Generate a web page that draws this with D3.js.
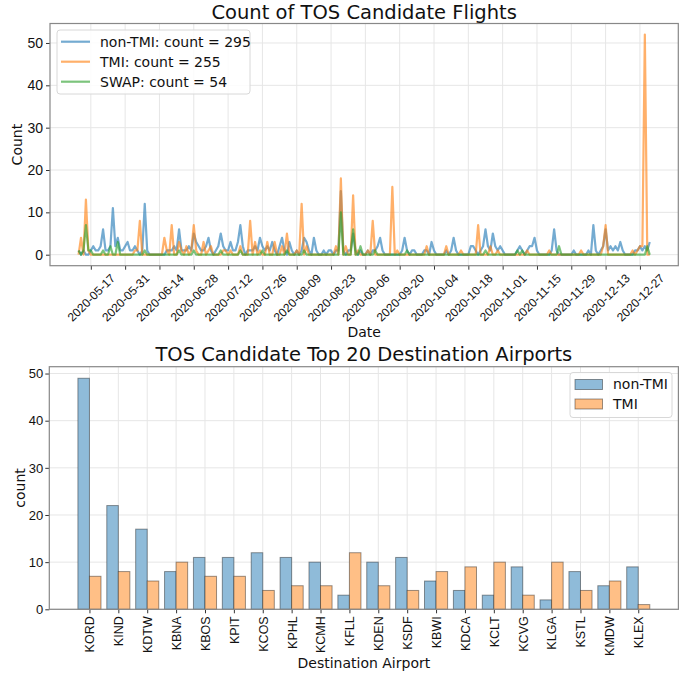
<!DOCTYPE html>
<html>
<head>
<meta charset="utf-8">
<script src="https://cdn.jsdelivr.net/npm/d3@7"></script>
<style>
  html, body { margin: 0; padding: 0; background: #fff; }
  svg { display: block; font-family: "DejaVu Sans", sans-serif; }
</style>
</head>
<body>
<svg id="chart" width="683" height="675"></svg>
<script>
// ---------------- DATA ----------------
const startDate = "2020-05-12";
const dateTicks = ["2020-05-17","2020-05-31","2020-06-14","2020-06-28","2020-07-12","2020-07-26",
  "2020-08-09","2020-08-23","2020-09-06","2020-09-20","2020-10-04","2020-10-18","2020-11-01",
  "2020-11-15","2020-11-29","2020-12-13","2020-12-27"];

const nonTMI = [
  1,0,1,0,0,1,2,1,1,2, 6,1,1,2,11,2,4,1,1,2, 3,1,1,2,1,0,1,12,1,0, 0,0,0,0,0,0,1,1,1,2,
  1,6,1,1,1,2,1,5,3,2, 1,1,2,4,1,0,1,2,5,2, 1,1,3,1,1,3,7,2,0,1, 1,1,2,1,4,2,1,2,1,3,
  1,0,2,4,1,0,3,1,0,1, 0,1,4,3,1,0,4,1,0,0, 1,0,1,1,0,1,1,15,1,0, 1,1,5,1,0,1,0,0,1,0,
  1,1,2,4,1,0,0,0,0,0, 0,0,1,4,1,0,1,1,0,0, 0,1,1,0,3,1,0,0,0,0, 1,0,1,4,1,0,0,0,0,0,
  2,2,1,0,1,2,6,2,1,5, 2,1,2,1,0,0,0,0,0,1, 2,1,0,1,2,2,4,1,0,0, 0,0,0,1,6,1,0,0,0,0,
  0,0,1,0,0,0,0,0,1,0, 7,1,0,1,2,6,1,2,1,2, 1,3,1,0,0,0,0,1,1,2, 1,2,1,3];
const tmi = [
  0,4,0,13,1,0,0,0,0,0, 0,0,0,0,0,0,0,0,0,0, 0,0,0,1,1,8,0,0,0,0, 0,0,0,0,0,4,1,0,7,0,
  0,3,1,0,2,0,1,7,1,0, 0,3,0,1,2,0,0,0,0,1, 1,0,1,0,0,0,2,0,0,0, 8,0,3,0,1,0,0,3,0,0,
  3,0,0,2,0,5,0,0,0,1, 0,12,0,2,0,0,0,0,0,0, 0,0,0,0,0,2,0,18,0,2, 0,0,14,0,1,0,0,0,1,0,
  8,0,0,0,0,0,0,0,16,0, 1,0,0,0,0,0,0,0,0,0, 0,0,2,0,0,0,0,0,0,0, 2,0,0,0,0,0,1,0,0,0,
  0,0,0,7,0,0,0,0,2,0, 0,1,0,0,0,0,0,0,0,0, 0,0,0,1,0,0,0,0,0,0, 0,0,1,0,0,0,0,0,0,0,
  0,0,0,0,0,1,0,0,0,0, 0,0,0,0,2,7,0,0,0,0, 0,0,0,0,0,0,1,0,1,2, 2,52,0,0];
const swap = [
  1,0,1,7,1,1,0,0,0,0, 1,0,0,2,0,0,3,0,0,0, 0,0,0,0,0,0,0,1,0,0, 0,0,0,0,0,0,0,0,0,0,
  0,1,0,0,0,0,0,1,0,0, 0,0,0,0,0,0,0,0,1,0, 0,0,0,0,0,0,1,0,0,0, 0,0,0,0,0,1,0,0,0,0,
  0,0,0,0,0,1,0,0,0,0, 0,0,1,0,0,0,0,0,0,0, 0,0,0,0,0,0,0,10,0,0, 0,0,6,0,0,2,0,0,0,0,
  0,1,0,0,0,0,0,0,0,0, 0,0,0,0,1,0,0,0,0,0, 0,0,0,0,0,0,0,0,0,0, 0,0,0,0,0,0,0,0,0,0,
  0,0,0,0,0,0,1,0,0,0, 0,0,0,0,0,0,0,0,0,1, 0,1,0,0,0,0,0,0,0,0, 0,0,0,0,0,0,2,0,0,0,
  0,0,0,0,0,0,0,0,0,0, 0,0,0,0,0,0,0,0,0,0, 0,0,0,0,0,0,0,0,0,0, 0,0,2,0];
const seriesNames = ["non-TMI: count = 295", "TMI: count = 255", "SWAP: count = 54"];

const airports = ["KORD","KIND","KDTW","KBNA","KBOS","KPIT","KCOS","KPHL","KCMH","KFLL",
  "KDEN","KSDF","KBWI","KDCA","KCLT","KCVG","KLGA","KSTL","KMDW","KLEX"];
const airNonTMI = [49,22,17,8,11,11,12,11,10,3,10,11,6,4,3,9,2,8,5,9];
const airTMI    = [7,8,6,10,7,7,4,5,5,12,5,4,8,9,10,3,10,4,6,1];
const countTicks = [0,10,20,30,40,50];
const lineTicks = [0,10,20,30,40,50];

// ---------------- STYLE ----------------
const colors = ["#1f77b4", "#ff7f0e", "#2ca02c"];
const gridColor = "#e6e6e6";
const svg = d3.select("#chart");

// ================= TOP CHART =================
const T = {left: 50, right: 678.3, top: 23.5, bottom: 265.7};
const parse = d3.utcParse("%Y-%m-%d");
const d0 = parse(startDate);
const dates = nonTMI.map((_, i) => d3.utcDay.offset(d0, i));
const dEnd = dates[dates.length - 1];
const spanMs = dEnd - d0;
const xT = d3.scaleUtc()
  .domain([new Date(+d0 - spanMs * 0.05), new Date(+dEnd + spanMs * 0.05)])
  .range([T.left, T.right]);
const yT = d3.scaleLinear().domain([-2.6, 54.6]).range([T.bottom, T.top]);
const tickDates = dateTicks.map(parse);

const gT = svg.append("g");
// grid
gT.append("g").selectAll("line").data(tickDates).join("line")
  .attr("x1", d => xT(d)).attr("x2", d => xT(d))
  .attr("y1", T.top).attr("y2", T.bottom)
  .attr("stroke", gridColor).attr("stroke-width", 1);
gT.append("g").selectAll("line").data(lineTicks).join("line")
  .attr("x1", T.left).attr("x2", T.right)
  .attr("y1", d => yT(d)).attr("y2", d => yT(d))
  .attr("stroke", gridColor).attr("stroke-width", 1);

// lines
const lineGen = d3.line().x((d, i) => xT(dates[i])).y(d => yT(d));
[nonTMI, tmi, swap].forEach((s, k) => {
  gT.append("path").datum(s)
    .attr("d", lineGen)
    .attr("fill", "none")
    .attr("stroke", colors[k])
    .attr("stroke-width", 2.2)
    .attr("stroke-opacity", 0.62)
    .attr("stroke-linejoin", "round");
});

// axes
const xAxisT = gT.append("g").attr("transform", `translate(0,${T.bottom})`)
  .call(d3.axisBottom(xT).tickValues(tickDates).tickFormat(d3.utcFormat("%Y-%m-%d")).tickSize(4).tickSizeOuter(0));
xAxisT.select(".domain").remove();
xAxisT.selectAll("line").attr("stroke", "#333");
xAxisT.selectAll("text")
  .attr("font-size", 12).attr("fill", "#111")
  .attr("text-anchor", "middle")
  .attr("x", 0).attr("y", 0).attr("dy", "0.35em")
  .attr("transform", "translate(0,32) rotate(-45)");

const yAxisT = gT.append("g").attr("transform", `translate(${T.left},0)`)
  .call(d3.axisLeft(yT).tickValues(lineTicks).tickSize(4));
yAxisT.select(".domain").remove();
yAxisT.selectAll("line").attr("stroke", "#333");
yAxisT.selectAll("text").attr("font-size", 14).attr("fill", "#111").attr("x", -7);

gT.append("rect").attr("x", T.left).attr("y", T.top)
  .attr("width", T.right - T.left).attr("height", T.bottom - T.top)
  .attr("fill", "none").attr("stroke", "#888").attr("stroke-width", 1.2);

gT.append("text").attr("x", (T.left + T.right) / 2).attr("y", 19)
  .attr("text-anchor", "middle").attr("font-size", 19.5).attr("fill", "#111")
  .text("Count of TOS Candidate Flights");
gT.append("text").attr("x", (T.left + T.right) / 2).attr("y", 337)
  .attr("text-anchor", "middle").attr("font-size", 14).attr("fill", "#111").text("Date");
gT.append("text").attr("transform", `translate(22,${(T.top + T.bottom) / 2}) rotate(-90)`)
  .attr("text-anchor", "middle").attr("font-size", 14).attr("fill", "#111").text("Count");

// legend
const legT = gT.append("g");
legT.append("rect").attr("x", 57).attr("y", 30).attr("width", 193).attr("height", 64)
  .attr("rx", 3).attr("fill", "#fff").attr("fill-opacity", 0.85)
  .attr("stroke", "#d8d8d8");
seriesNames.forEach((name, k) => {
  const yy = 41.7 + k * 20;
  legT.append("line").attr("x1", 61).attr("x2", 90).attr("y1", yy).attr("y2", yy)
    .attr("stroke", colors[k]).attr("stroke-width", 2.2).attr("stroke-opacity", 0.62);
  legT.append("text").attr("x", 100).attr("y", yy).attr("dy", "0.35em")
    .attr("font-size", 14).attr("fill", "#111").text(name);
});

// ================= BOTTOM CHART =================
const B = {left: 49.3, right: 678.4, top: 366.7, bottom: 609.3};
const n = airports.length;
const xB = d3.scaleLinear().domain([-0.4 - 0.05 * (n - 0.2), n - 1 + 0.4 + 0.05 * (n - 0.2)])
  .range([B.left, B.right]);
const yB = d3.scaleLinear().domain([0, 49 * 1.05]).range([B.bottom, B.top]);
const bw = 0.4;

const gB = svg.append("g");
gB.append("g").selectAll("line").data(airports).join("line")
  .attr("x1", (d, i) => xB(i)).attr("x2", (d, i) => xB(i))
  .attr("y1", B.top).attr("y2", B.bottom)
  .attr("stroke", gridColor).attr("stroke-width", 1);
gB.append("g").selectAll("line").data(countTicks).join("line")
  .attr("x1", B.left).attr("x2", B.right)
  .attr("y1", d => yB(d)).attr("y2", d => yB(d))
  .attr("stroke", gridColor).attr("stroke-width", 1);

const barFill = ["#8fbbd9", "#ffbf86"];
[airNonTMI, airTMI].forEach((vals, k) => {
  gB.append("g").selectAll("rect").data(vals).join("rect")
    .attr("x", (d, i) => xB(i + (k === 0 ? -bw : 0)))
    .attr("width", xB(bw) - xB(0))
    .attr("y", d => yB(d))
    .attr("height", d => yB(0) - yB(d))
    .attr("fill", barFill[k])
    .attr("stroke", "#000").attr("stroke-opacity", 0.4).attr("stroke-width", 1);
});

const xAxisB = gB.append("g").attr("transform", `translate(0,${B.bottom})`)
  .call(d3.axisBottom(xB).tickValues(d3.range(n)).tickFormat(i => airports[i]).tickSize(4).tickSizeOuter(0));
xAxisB.select(".domain").remove();
xAxisB.selectAll("line").attr("stroke", "#333");
xAxisB.selectAll("text")
  .attr("font-size", 12.5).attr("fill", "#111")
  .attr("text-anchor", "end")
  .attr("transform", "rotate(-90)")
  .attr("x", -7).attr("y", 0).attr("dy", "0.35em");

const yAxisB = gB.append("g").attr("transform", `translate(${B.left},0)`)
  .call(d3.axisLeft(yB).tickValues(countTicks).tickSize(4));
yAxisB.select(".domain").remove();
yAxisB.selectAll("line").attr("stroke", "#333");
yAxisB.selectAll("text").attr("font-size", 13).attr("fill", "#111").attr("x", -6);

gB.append("rect").attr("x", B.left).attr("y", B.top)
  .attr("width", B.right - B.left).attr("height", B.bottom - B.top)
  .attr("fill", "none").attr("stroke", "#888").attr("stroke-width", 1.2);

gB.append("text").attr("x", (B.left + B.right) / 2).attr("y", 361)
  .attr("text-anchor", "middle").attr("font-size", 19.5).attr("fill", "#111")
  .text("TOS Candidate Top 20 Destination Airports");
gB.append("text").attr("x", (B.left + B.right) / 2).attr("y", 668)
  .attr("text-anchor", "middle").attr("font-size", 14).attr("fill", "#111").text("Destination Airport");
gB.append("text").attr("transform", `translate(25,${(B.top + B.bottom) / 2}) rotate(-90)`)
  .attr("text-anchor", "middle").attr("font-size", 14).attr("fill", "#111").text("count");

const legB = gB.append("g");
legB.append("rect").attr("x", 570).attr("y", 372.5).attr("width", 102).attr("height", 45)
  .attr("rx", 3).attr("fill", "#fff").attr("fill-opacity", 0.85).attr("stroke", "#d8d8d8");
["non-TMI", "TMI"].forEach((name, k) => {
  const yy = 384.5 + k * 19.5;
  legB.append("rect").attr("x", 575).attr("y", yy - 5).attr("width", 27.5).attr("height", 10)
    .attr("fill", barFill[k]).attr("stroke", "#000").attr("stroke-opacity", 0.4);
  legB.append("text").attr("x", 613).attr("y", yy).attr("dy", "0.35em")
    .attr("font-size", 14).attr("fill", "#111").text(name);
});
</script>
</body>
</html>
